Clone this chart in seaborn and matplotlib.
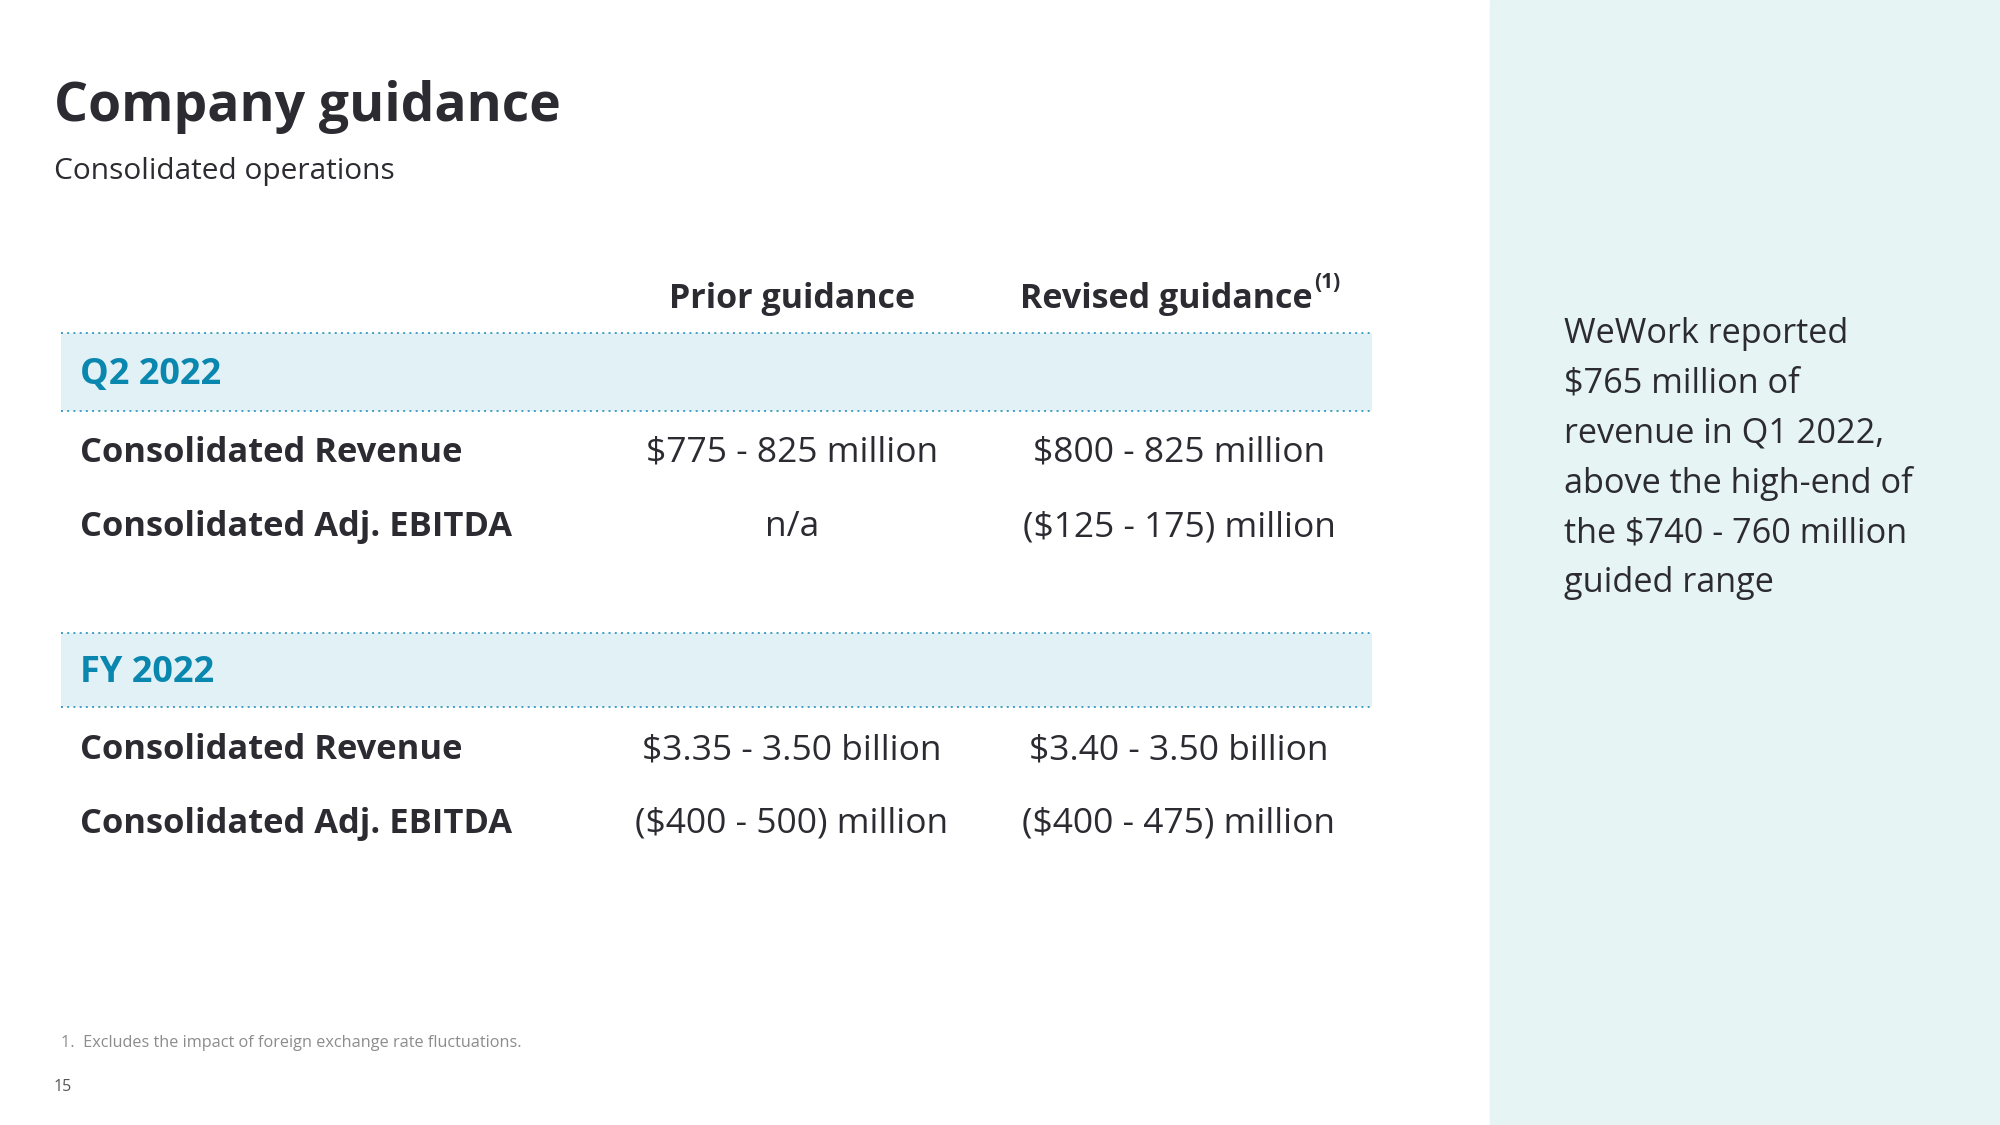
import seaborn as sns
import matplotlib.pyplot as plt

sns.set_theme(style="white")
plt.rcParams["font.family"] = ["Open Sans", "DejaVu Sans"]

# Table content
title = "Company guidance"
subtitle = "Consolidated operations"
col_headers = ["Prior guidance", "Revised guidance"]
header_note = "(1)"
sections = ["Q2 2022", "FY 2022"]
row_labels = ["Consolidated Revenue", "Consolidated Adj. EBITDA"]
prior_q2 = ["$775 - 825 million", "n/a"]
revised_q2 = ["$800 - 825 million", "($125 - 175) million"]
prior_fy = ["$3.35 - 3.50 billion", "($400 - 500) million"]
revised_fy = ["$3.40 - 3.50 billion", "($400 - 475) million"]
side_note = ["WeWork reported", "$765 million of", "revenue in Q1 2022,",
             "above the high-end of", "the $740 - 760 million", "guided range"]
footnote = "1.  Excludes the impact of foreign exchange rate fluctuations."
page_no = "15"

dark = "#2b2b31"
teal = "#0a87ae"
band = "#e1f1f5"
panel = "#e6f4f4"
dots = "#3f9ec4"

fig = plt.figure(figsize=(20, 11.25), dpi=100)
ax = fig.add_axes([0, 0, 1, 1])
ax.set_xlim(0, 2000)
ax.set_ylim(1125, 0)
ax.axis("off")

# right side panel
ax.axvspan(1490, 2000, color=panel, zorder=0)

ax.text(54, 107, title, fontsize=38.5, fontweight="bold", color=dark, va="center")
ax.text(54, 172, subtitle, fontsize=21.5, color=dark, va="center")

# column headers
prior_x, revised_x = 792, 1179
ax.text(prior_x, 299, col_headers[0], fontsize=24.5, fontweight="bold", color=dark,
        ha="center", va="center")
hdr = ax.text(revised_x - 13, 299, col_headers[1], fontsize=24.5, fontweight="bold",
              color=dark, ha="center", va="center")
ax.annotate(header_note, xy=(1, 1.0), xycoords=hdr, fontsize=15, fontweight="bold",
            color=dark, ha="left", va="center", xytext=(1, 0), textcoords="offset points")

# section bands and dotted rules
band_rows = [(333, 411), (633, 707)]
for (top, bot), sec in zip(band_rows, sections):
    ax.fill_between([61, 1372], top, bot, color=band, lw=0, zorder=1)
    for y in (top, bot):
        ax.plot([61, 1372], [y, y], color=dots, ls=(0, (1, 2.2)), lw=1.4, zorder=2)
    ax.text(80, (top + bot) / 2 + 3, sec, fontsize=26, fontweight="bold", color=teal,
            va="center", zorder=3)

row_y = [[453, 527], [750, 824]]
tables = [(prior_q2, revised_q2), (prior_fy, revised_fy)]
for ys, (prior, revised) in zip(row_y, tables):
    for y, lab, p, r in zip(ys, row_labels, prior, revised):
        ax.text(80, y, lab, fontsize=24.8, fontweight="bold", color=dark, va="center")
        ax.text(prior_x, y, p, fontsize=25.5, color=dark, ha="center", va="center")
        ax.text(revised_x, y, r, fontsize=25.5, color=dark, ha="center", va="center")

# side note
for i, line in enumerate(side_note):
    ax.text(1564, 334 + i * 49.8, line, fontsize=24.7, color=dark, va="center")

ax.text(61, 1043, footnote, fontsize=11.7, color="#8c8c8c", va="center")
ax.text(54, 1087, page_no, fontsize=11.5, color="#555555", va="center")

fig.savefig("out.png", dpi=100)
